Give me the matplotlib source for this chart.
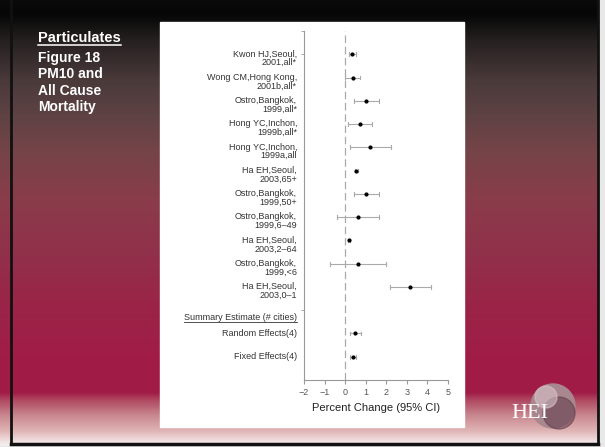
import matplotlib.pyplot as plt
import matplotlib.colors as mcolors
import numpy as np
from matplotlib.lines import Line2D
from matplotlib.patches import Rectangle, Circle

plt.rcParams['font.family'] = ['Liberation Sans', 'DejaVu Sans']

# study labels and estimates (percent change, 95% CI)
labels = [
    "Kwon HJ,Seoul,\n2001,all*",
    "Wong CM,Hong Kong,\n2001b,all*",
    "Ostro,Bangkok,\n1999,all*",
    "Hong YC,Inchon,\n1999b,all*",
    "Hong YC,Inchon,\n1999a,all",
    "Ha EH,Seoul,\n2003,65+",
    "Ostro,Bangkok,\n1999,50+",
    "Ostro,Bangkok,\n1999,6\u201349",
    "Ha EH,Seoul,\n2003,2\u201364",
    "Ostro,Bangkok,\n1999,<6",
    "Ha EH,Seoul,\n2003,0\u20131",
]
est = [0.35, 0.36, 1.01, 0.70, 1.21, 0.54, 1.01, 0.61, 0.20, 0.61, 3.15]
lo = [0.18, 0.01, 0.43, 0.14, 0.22, 0.47, 0.43, -0.40, 0.15, -0.75, 2.16]
hi = [0.54, 0.74, 1.63, 1.30, 2.24, 0.61, 1.63, 1.63, 0.25, 2.01, 4.17]

sum_labels = ["Random Effects(4)", "Fixed Effects(4)"]
sum_est = [0.48, 0.38]
sum_lo = [0.22, 0.25]
sum_hi = [0.75, 0.54]

xticks = [-2, -1, 0, 1, 2, 3, 4, 5]

W, H = 605, 447
fig = plt.figure(figsize=(W / 100, H / 100), dpi=100)

# slide background gradient
bg = fig.add_axes([0, 0, 1, 1])
bg.set_axis_off()
stops_y = [0, 14, 40, 80, 115, 150, 200, 260, 300, 360, 392, 400, 415, 430, 442, 447]
stops_c = ["#0a0a0a", "#060606", "#262020", "#4a3a3a", "#5e4244", "#744448",
           "#8a3c4a", "#922f4a", "#9a2547", "#a11c48", "#a01c47", "#b04a62",
           "#c98890", "#dfb3b4", "#f3e6e6", "#f5f0f0"]
rgb = np.array([mcolors.to_rgb(c) for c in stops_c])
ys = np.arange(H)
grad = np.stack([np.interp(ys, stops_y, rgb[:, k]) for k in range(3)], axis=1)
img = np.repeat(grad[:, None, :], W, axis=1)
bg.imshow(img, extent=[0, W, H, 0], aspect='auto')
bg.set_xlim(0, W)
bg.set_ylim(H, 0)
# frame lines
bg.plot([11, 11], [0, 444], color="#111111", lw=2)
bg.plot([11, 598], [444, 444], color="#111111", lw=2.5)
bg.plot([598, 598], [0, 444], color="#111111", lw=2)
bg.add_patch(Rectangle((599, 0), 6, H, color="#e8e8e8"))
bg.add_patch(Rectangle((0, 446), W, 1, color="#e8e8e8"))
# white panel
bg.add_patch(Rectangle((160, 22), 304, 405, color="white"))

# left text
title = bg.text(38, 42, "Particulates", color="white", fontsize=10.5,
                fontweight="bold", va="baseline", ha="left")
bg.text(38, 51, "Figure 18\nPM10 and\nAll Cause\nMortality", color="white",
        fontsize=10, fontweight="bold", va="top", ha="left", linespacing=1.22)

# logo
bg.add_patch(Circle((553, 406), 22, color="#a9878f"))
bg.add_patch(Circle((559, 413), 16, color="#5e3a48", alpha=0.55))
bg.add_patch(Circle((546, 397), 11, color="#d9c3c9", alpha=0.6))
bg.text(530, 413, "HEI", color="white", fontsize=16, family="Liberation Serif",
        ha="center", va="center")

# forest plot axes
left_px, right_px, top_px, bot_px = 304, 448, 31, 380
ax = fig.add_axes([left_px / W, 1 - bot_px / H, (right_px - left_px) / W,
                   (bot_px - top_px) / H])
ax.patch.set_alpha(0)
ax.set_xlim(-2, 5)
ax.set_ylim(14, -1)
for s in ["top", "right"]:
    ax.spines[s].set_visible(False)
for s in ["left", "bottom"]:
    ax.spines[s].set_color("#999999")
    ax.spines[s].set_linewidth(0.8)
ax.set_yticks([-1, 0, 11])
ax.set_yticklabels([])
ax.tick_params(axis="y", length=2, color="#999999", width=0.6)
ax.set_xticks(xticks)
ax.set_xticklabels([str(t).replace("-", "\u2212") for t in xticks])
ax.tick_params(axis="x", length=3, color="#999999", width=0.8, labelsize=6.5,
               labelcolor="#555555", pad=3)
ax.set_xlabel("Percent Change (95% CI)", fontsize=8, color="#222222", labelpad=4)

ax.axvline(0, color="#aaaaaa", lw=0.9, ls=(0, (6, 3)))

rows = list(range(len(labels)))
sum_rows = [12, 13]

def draw(rows_, e, l, h):
    for r, ee, ll, hh in zip(rows_, e, l, h):
        ax.plot([ll, hh], [r, r], color="#aaaaaa", lw=0.8)
        ax.plot([ll, ll], [r - 0.08, r + 0.08], color="#aaaaaa", lw=0.8)
        ax.plot([hh, hh], [r - 0.08, r + 0.08], color="#aaaaaa", lw=0.8)
        ax.plot(ee, r, "o", color="black", ms=2.0)

draw(rows, est, lo, hi)
draw(sum_rows, sum_est, sum_lo, sum_hi)

for r, lab in zip(rows, labels):
    ax.annotate(lab, xy=(0, r), xycoords=("axes fraction", "data"),
                xytext=(-5, 3.4), textcoords="offset points", ha="right",
                va="top", fontsize=6.5, color="#333333", linespacing=0.95,
                multialignment="right")
for r, lab in zip(sum_rows, sum_labels):
    ax.annotate(lab, xy=(0, r), xycoords=("axes fraction", "data"),
                xytext=(-5, 0), textcoords="offset points", ha="right",
                va="center", fontsize=6.5, color="#333333")

head = ax.annotate("Summary Estimate (# cities)", xy=(0, 11.3),
                   xycoords=("axes fraction", "data"), xytext=(-5, 0),
                   textcoords="offset points", ha="right", va="center",
                   fontsize=6.5, color="#333333")

# underlines
fig.canvas.draw()
inv = fig.transFigure.inverted()
for t, col, lw, dy in [(head, "#333333", 0.6, 0.0), (title, "white", 1.1, 0.5)]:
    bb = t.get_window_extent()
    (x0, y0), (x1, y1) = inv.transform([(bb.x0, bb.y0 + dy), (bb.x1, bb.y0 + dy)])
    fig.add_artist(Line2D([x0, x1], [y0, y1], transform=fig.transFigure,
                          color=col, lw=lw))

fig.savefig("out.png", dpi=100)
